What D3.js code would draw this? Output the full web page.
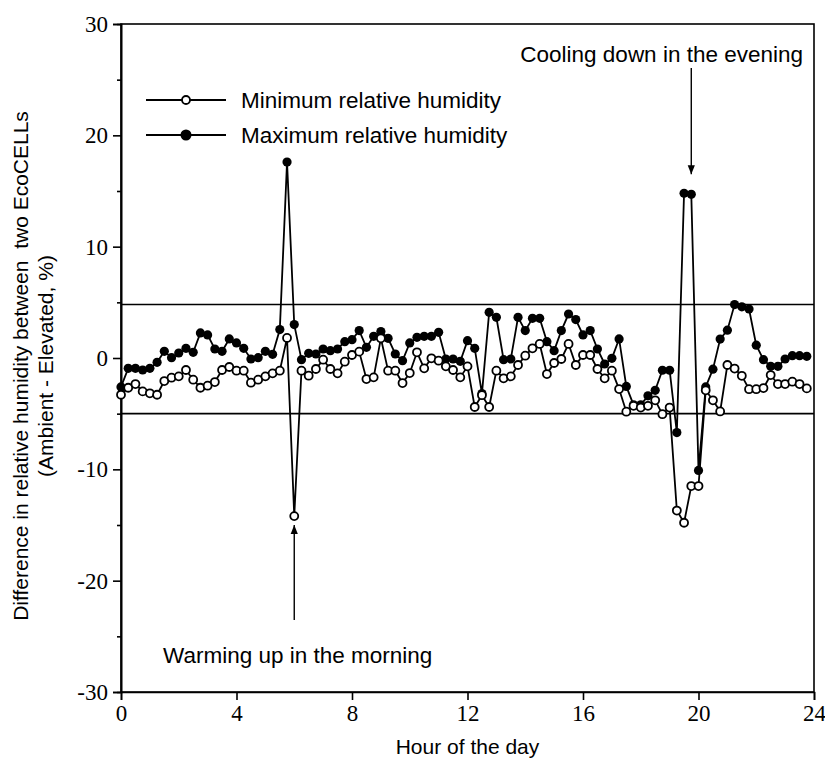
<!DOCTYPE html>
<html><head><meta charset="utf-8">
<script src="https://cdn.jsdelivr.net/npm/d3@7"></script>
<style>
body{margin:0;background:#fff;}
svg{display:block;}
.tick text{font-family:"Liberation Serif","Times New Roman",serif;font-size:23px;fill:#000;}
.lab{font-family:"Liberation Sans",Arial,sans-serif;font-size:22.5px;fill:#000;white-space:pre;}
.ttl{font-family:"Liberation Sans",Arial,sans-serif;font-size:21px;fill:#000;white-space:pre;}
</style></head>
<body>
<svg id="chart" width="825" height="761"></svg>
<script>
// Hour of the day (15-minute readings)
const hours = [0,0.25,0.5,0.75,1,1.25,1.5,1.75,2,2.25,2.5,2.75,3,3.25,3.5,3.75,4,4.25,4.5,4.75,5,5.25,5.5,5.75,
6,6.25,6.5,6.75,7,7.25,7.5,7.75,8,8.25,8.5,8.75,9,9.25,9.5,9.75,10,10.25,10.5,10.75,11,11.25,11.5,11.75,
12,12.25,12.5,12.75,13,13.25,13.5,13.75,14,14.25,14.5,14.75,15,15.25,15.5,15.75,16,16.25,16.5,16.75,17,17.25,17.5,17.75,
18,18.25,18.5,18.75,19,19.25,19.5,19.75,20,20.25,20.5,20.75,21,21.25,21.5,21.75,22,22.25,22.5,22.75,23,23.25,23.5,23.75];

const minRH = [-3.3,-2.67,-2.34,-3.0,-3.17,-3.3,-2.07,-1.77,-1.65,-1.08,-1.95,-2.67,-2.49,-2.16,-1.08,-0.81,-1.14,-1.14,-2.22,-1.95,-1.65,-1.38,-1.14,1.8,
-14.2,-1.14,-1.59,-0.99,-0.15,-0.99,-1.38,-0.33,0.27,0.57,-1.89,-1.74,1.77,-1.14,-1.14,-2.25,-1.35,0.51,-0.93,-0.03,-0.24,-0.75,-1.08,-1.74,
-0.75,-4.4,-3.34,-4.4,-1.14,-1.83,-1.65,-0.63,0.21,0.87,1.26,-1.44,-0.45,-0.09,1.26,-0.63,0.27,0.27,-0.99,-1.83,-1.14,-2.79,-4.82,-4.3,
-4.45,-4.3,-3.8,-5.05,-4.45,-13.7,-14.8,-11.5,-11.5,-2.9,-3.8,-4.8,-0.63,-0.95,-1.6,-2.8,-2.8,-2.7,-1.53,-2.34,-2.34,-2.13,-2.34,-2.73];

const maxRH = [-2.6,-0.93,-0.93,-1.08,-0.93,-0.39,0.6,0.03,0.45,0.87,0.51,2.25,2.07,0.81,0.6,1.71,1.35,0.87,-0.09,0.03,0.6,0.33,2.55,17.6,
3.0,-0.15,0.42,0.36,0.81,0.66,0.81,1.47,1.65,2.46,0.96,1.95,2.37,1.77,0.36,-0.24,1.35,1.86,1.95,1.95,2.31,-0.09,-0.09,-0.3,
1.56,0.87,-3.2,4.1,3.65,-0.15,-0.09,3.65,2.46,3.56,3.56,1.47,0.66,2.46,3.95,3.45,2.07,2.46,0.81,-0.54,-0.03,1.71,-2.55,-4.2,
-4.2,-3.4,-2.9,-1.1,-1.1,-6.7,14.8,14.7,-10.1,-2.6,-1.0,1.7,2.5,4.8,4.6,4.4,1.15,-0.15,-0.75,-0.75,-0.09,0.21,0.21,0.15];

const xTicks = [0,4,8,12,16,20,24];
const yTicks = [-30,-20,-10,0,10,20,30];
const yMinorTicks = [-25,-15,-5,5,15,25];
const refLines = [4.8,-5];
const seriesNames = ["Minimum relative humidity","Maximum relative humidity"];
const xTitle = "Hour of the day";
const yTitle1 = "Difference in relative humidity between  two EcoCELLs";
const yTitle2 = "(Ambient - Elevated, %)";
const noteEvening = "Cooling down in the evening";
const noteMorning = "Warming up in the morning";
const eveningHour = 19.75, morningHour = 6.0;

const svg = d3.select("#chart");
const L=121,R=814,T=24,B=692;
const x = d3.scaleLinear().domain([0,24]).range([L,R]);
const y = d3.scaleLinear().domain([-30,30]).range([B,T]);
const fmt = d => String(d);

// frame
svg.append("rect").attr("x",L).attr("y",T).attr("width",R-L).attr("height",B-T)
  .attr("fill","none").attr("stroke","#000").attr("stroke-width",1.6);

// reference lines
svg.selectAll(".ref").data(refLines).join("line")
  .attr("x1",L).attr("x2",R).attr("y1",d=>y(d)).attr("y2",d=>y(d))
  .attr("stroke","#000").attr("stroke-width",1.6);

// axes
svg.append("g").attr("transform",`translate(${L},0)`)
  .call(d3.axisLeft(y).tickValues(yTicks).tickSize(8).tickPadding(5).tickFormat(fmt));
svg.append("g").attr("transform",`translate(${L},0)`)
  .call(d3.axisLeft(y).tickValues(yMinorTicks).tickSize(4).tickFormat(""));
svg.append("g").attr("transform",`translate(0,${B})`)
  .call(d3.axisBottom(x).tickValues(xTicks).tickSize(8).tickPadding(5).tickFormat(fmt));
svg.selectAll(".domain").attr("stroke","#000").attr("stroke-width",1.6);
svg.selectAll(".tick line").attr("stroke","#000").attr("stroke-width",1.6);

// series
const line = d3.line().x(d=>x(d[0])).y(d=>y(d[1]));
const maxData = hours.map((h,i)=>[h,maxRH[i]]);
const minData = hours.map((h,i)=>[h,minRH[i]]);

svg.append("path").datum(maxData).attr("d",line).attr("fill","none").attr("stroke","#000").attr("stroke-width",1.8);
svg.append("path").datum(minData).attr("d",line).attr("fill","none").attr("stroke","#000").attr("stroke-width",1.8);
svg.append("g").selectAll("circle").data(maxData).join("circle")
  .attr("cx",d=>x(d[0])).attr("cy",d=>y(d[1])).attr("r",4.6).attr("fill","#000");
svg.append("g").selectAll("circle").data(minData).join("circle")
  .attr("cx",d=>x(d[0])).attr("cy",d=>y(d[1])).attr("r",4).attr("fill","#fff").attr("stroke","#000").attr("stroke-width",1.8);

// legend
const legY = [100,135];
seriesNames.forEach((name,i)=>{
  svg.append("line").attr("x1",146).attr("x2",226).attr("y1",legY[i]).attr("y2",legY[i])
    .attr("stroke","#000").attr("stroke-width",1.8);
  svg.append("circle").attr("cx",186).attr("cy",legY[i]).attr("r",i===0?4:4.6)
    .attr("fill",i===0?"#fff":"#000").attr("stroke","#000").attr("stroke-width",1.8);
  svg.append("text").attr("class","lab").attr("x",241).attr("y",legY[i]+8).text(name);
});

// annotations
svg.append("defs").append("marker").attr("id","ah").attr("viewBox","0 0 10 10")
  .attr("refX",10).attr("refY",5).attr("markerWidth",9).attr("markerHeight",10)
  .attr("markerUnits","userSpaceOnUse").attr("orient","auto")
  .append("path").attr("d","M0,1L10,5L0,9Z").attr("fill","#000");
svg.append("text").attr("class","lab").attr("x",803).attr("y",62).attr("text-anchor","end").text(noteEvening);
svg.append("line").attr("x1",x(eveningHour)).attr("x2",x(eveningHour)).attr("y1",68).attr("y2",y(16.5))
  .attr("stroke","#000").attr("stroke-width",1.4).attr("marker-end","url(#ah)");
svg.append("text").attr("class","lab").attr("x",163).attr("y",663).text(noteMorning);
svg.append("line").attr("x1",x(morningHour)).attr("x2",x(morningHour)).attr("y1",620).attr("y2",y(-15))
  .attr("stroke","#000").attr("stroke-width",1.4).attr("marker-end","url(#ah)");

// axis titles
svg.append("text").attr("class","ttl").attr("x",(L+R)/2).attr("y",754).attr("text-anchor","middle").text(xTitle);
svg.append("text").attr("class","ttl").attr("transform",`translate(28,${(T+B)/2+8}) rotate(-90)`)
  .attr("text-anchor","middle").text(yTitle1);
svg.append("text").attr("class","ttl").attr("transform",`translate(53,${(T+B)/2+8}) rotate(-90)`)
  .attr("text-anchor","middle").text(yTitle2);
</script>
</body></html>
